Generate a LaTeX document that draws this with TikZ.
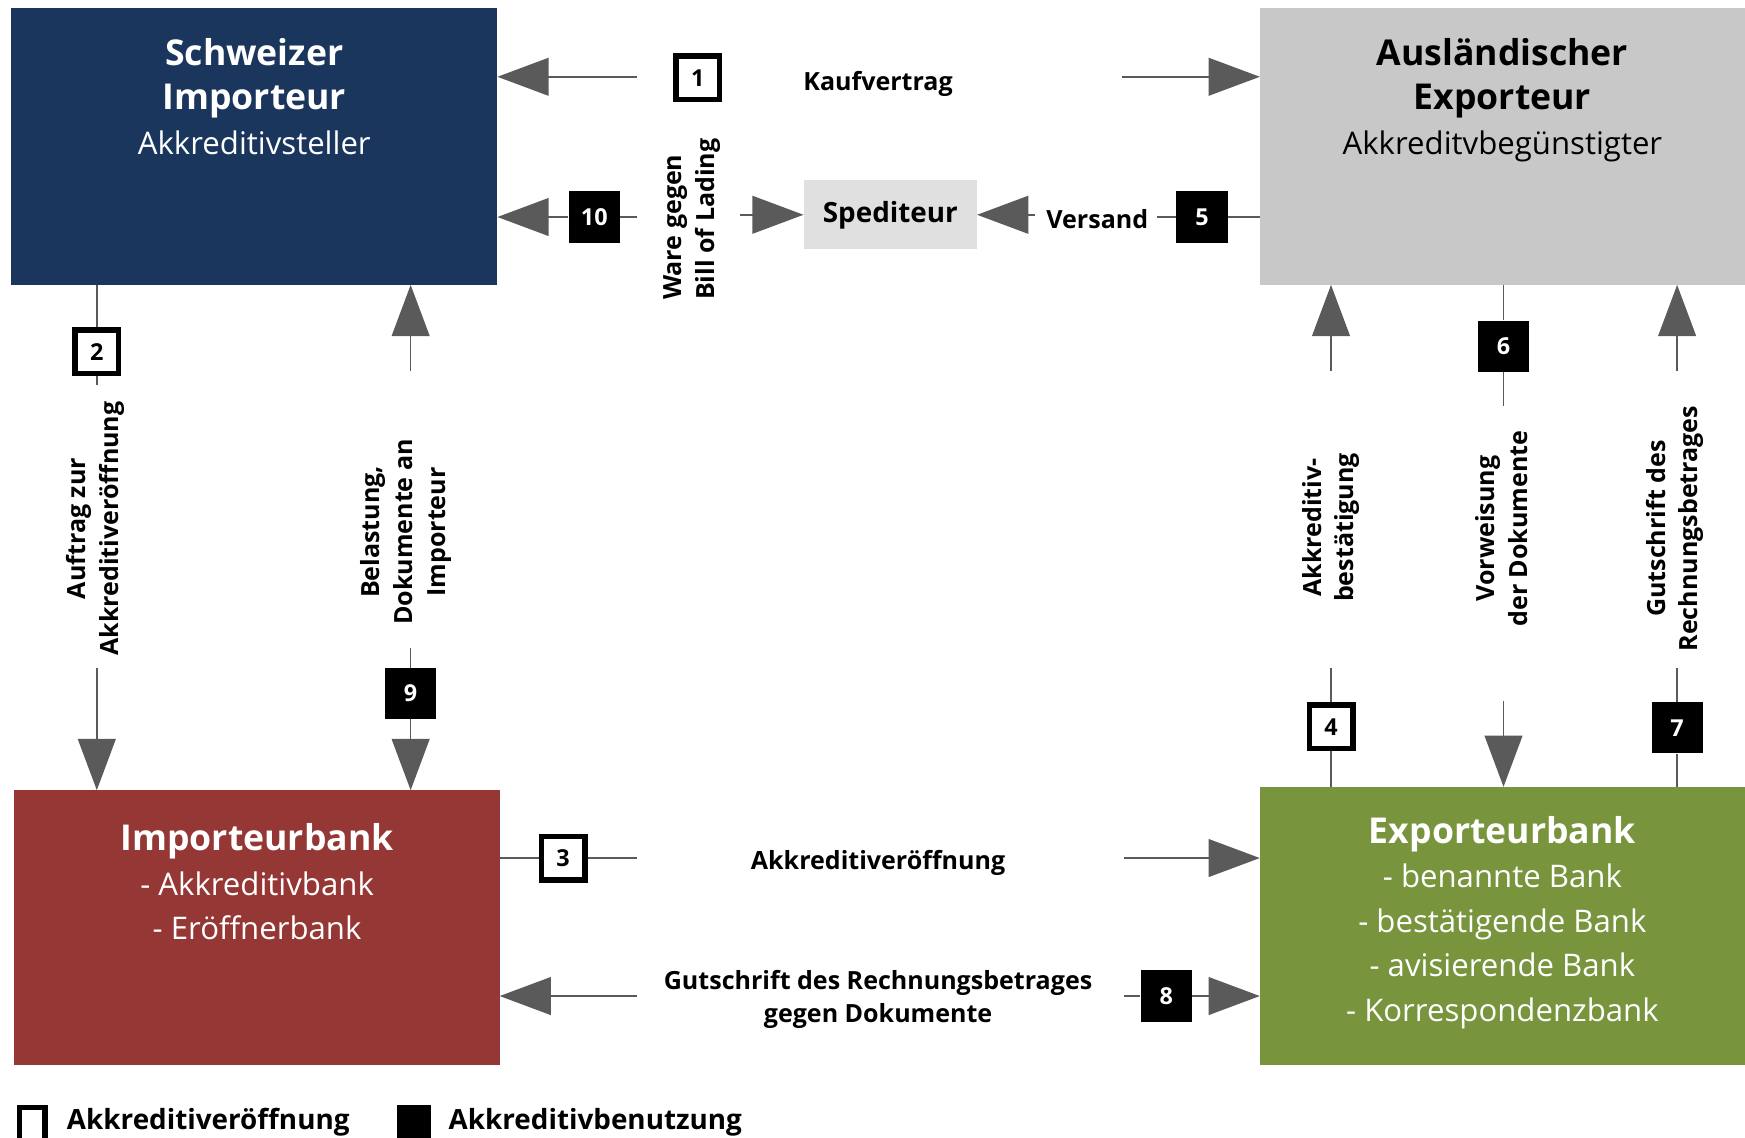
\documentclass[tikz,border=0pt]{standalone}
\usepackage{fontspec}
\setmainfont{Open Sans}
\usetikzlibrary{arrows.meta,positioning}
\definecolor{navy}{HTML}{1A365D}
\definecolor{silver}{HTML}{C8C8C8}
\definecolor{brick}{HTML}{953735}
\definecolor{olive}{HTML}{78943C}
\definecolor{haze}{HTML}{E0E0E0}
\definecolor{tip}{HTML}{5A5A5A}
\newcommand{\bighead}[1]{{\fontsize{32}{40}\selectfont\bfseries #1}}

\begin{document}
\begin{tikzpicture}[x=1pt,y=-1pt,
  party/.style={inner sep=0pt,outer sep=0pt},
  head/.style={inner sep=0pt,align=center,font=\fontsize{28}{40}\selectfont},
  lbl/.style={inner sep=0pt,align=center,font=\fontsize{22.5}{29.5}\selectfont\bfseries},
  flow/.style={draw=tip,line width=1.3pt},
  arr/.style={flow,-{Triangle[length=46pt,width=34pt]}},
  numopen/.style={draw=black,fill=white,line width=5pt,minimum size=39pt,inner sep=0pt,font=\fontsize{21}{21}\selectfont\bfseries},
  numused/.style={fill=black,text=white,minimum size=46pt,inner sep=0pt,font=\fontsize{21}{21}\selectfont\bfseries}]
\useasboundingbox (0,0) rectangle (1568,1022);

\node[party,fill=navy,minimum width=437pt,minimum height=249pt] (imp) at (228.5,131.5) {};
\node[party,fill=silver,minimum width=436pt,minimum height=249pt] (exp) at (1350,131.5) {};
\node[party,fill=brick,minimum width=436pt,minimum height=247pt] (ibank) at (231,833.5) {};
\node[party,fill=olive,minimum width=436pt,minimum height=250pt] (ebank) at (1350,832) {};
\node[party,fill=haze,minimum width=156pt,minimum height=62pt,font=\fontsize{25}{25}\selectfont\bfseries] (sped) at (800,193) {Spediteur};

\node[head,text=white,below=27pt of imp.north] (impT) {\bighead{Schweizer}\\\bighead{Importeur}\\Akkreditivsteller};
\node[head,text=black,below=27pt of exp.north] (expT) {\bighead{Ausländischer}\\\bighead{Exporteur}\\Akkreditvbegünstigter};
\node[head,text=white,below=30pt of ibank.north] (ibankT) {\bighead{Importeurbank}\\- Akkreditivbank\\- Eröffnerbank};
\node[head,text=white,below=26pt of ebank.north] (ebankT) {\bighead{Exporteurbank}\\- benannte Bank\\- bestätigende Bank\\- avisierende Bank\\- Korrespondenzbank};

\node[lbl] (t1) at (789,75) {Kaufvertrag};
\node[lbl,rotate=90,align=left] (t10) at (622,197) {Ware gegen\\Bill of Lading};
\node[lbl] (t5) at (986,197) {Versand};
\node[lbl,rotate=90] (t2) at (86,475) {Auftrag zur\\Akkreditiveröffnung};
\node[lbl,rotate=90] (t9) at (365,478) {Belastung,\\Dokumente an\\Importeur};
\node[lbl,rotate=90] (t4) at (1196,474) {Akkreditiv-\\bestätigung};
\node[lbl,rotate=90] (t6) at (1349,475) {Vorweisung\\der Dokumente};
\node[lbl,rotate=90] (t7) at (1505,475) {Gutschrift des\\Rechnungsbetrages};
\node[lbl] (t3) at (789,775) {Akkreditiveröffnung};
\node[lbl] (t8) at (789,898) {Gutschrift des Rechnungsbetrages\\gegen Dokumente};

\node[numopen] (n1) at (627,70) {1};
\node[numused] (n10) at (534,195) {10};
\node[numused] (n5) at (1080,195) {5};
\node[numopen] (n2) at (87,316) {2};
\node[numused] (n9) at (369,623) {9};
\node[numopen] (n4) at (1196,653) {4};
\node[numused] (n6) at (1351,311) {6};
\node[numused] (n7) at (1507,654) {7};
\node[numopen] (n3) at (506,771) {3};
\node[numused] (n8) at (1048,895) {8};

\coordinate (k1l) at (572,69);
\coordinate (k1r) at (1008,69);
\coordinate (w1) at (572,195);
\coordinate (w2) at (665,193);
\coordinate (v1) at (930,193);
\coordinate (v2) at (1040,195);
\coordinate (a1) at (87,346);
\coordinate (a2) at (87,600);
\coordinate (b1) at (369,333);
\coordinate (b2) at (369,582);
\coordinate (c1) at (1196,333);
\coordinate (c2) at (1196,600);
\coordinate (d1) at (1351,365);
\coordinate (d2) at (1351,630);
\coordinate (e1) at (1507,333);
\coordinate (e2) at (1507,600);
\coordinate (f1) at (572,771);
\coordinate (f2) at (1010,771);
\coordinate (g1) at (572,895);
\coordinate (g2) at (1010,895);

\draw[arr] (k1l) -- (k1l -| imp.east);
\draw[arr] (k1r) -- (k1r -| exp.west);
\draw[arr] (w1) -- (n10) -- (n10 -| imp.east);
\draw[arr] (w2) -- (sped);
\draw[arr] (v1) -- (sped);
\draw[flow] (n5 -| exp.west) -- (n5) -- (v2);
\draw[flow] (imp.south -| n2) -- (n2) -- (a1);
\draw[arr] (a2) -- (a2 |- ibank.north);
\draw[arr] (b1) -- (b1 |- imp.south);
\draw[arr] (b2) -- (n9) -- (n9 |- ibank.north);
\draw[arr] (c1) -- (c1 |- exp.south);
\draw[flow] (c2) -- (n4) -- (n4 |- ebank.north);
\draw[flow] (exp.south -| n6) -- (n6) -- (d1);
\draw[arr] (d2) -- (d2 |- ebank.north);
\draw[arr] (e1) -- (e1 |- exp.south);
\draw[flow] (e2) -- (n7) -- (n7 |- ebank.north);
\draw[flow] (n3 -| ibank.east) -- (n3) -- (f1);
\draw[arr] (f2) -- (f2 -| ebank.west);
\draw[arr] (g1) -- (g1 -| ibank.east);
\draw[arr] (g2) -- (n8) -- (n8 -| ebank.west);

\node[draw=black,fill=white,line width=5pt,minimum width=23pt,minimum height=30pt,inner sep=0pt] (kopen) at (29,1010) {};
\node[fill=black,minimum width=30pt,minimum height=34pt,inner sep=0pt] (kused) at (372,1010) {};
\node[anchor=west,inner sep=0pt,font=\fontsize{25}{25}\selectfont\bfseries] (kopenT) at (60,1008) {Akkreditiveröffnung};
\node[anchor=west,inner sep=0pt,font=\fontsize{25}{25}\selectfont\bfseries] (kusedT) at (403,1008) {Akkreditivbenutzung};
\end{tikzpicture}
\end{document}
